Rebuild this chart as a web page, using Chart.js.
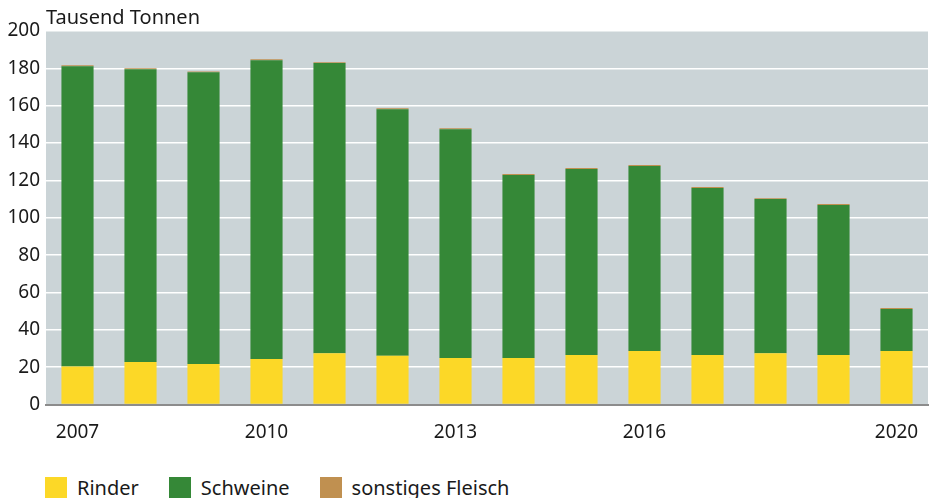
<!DOCTYPE html>
<html>
<head>
<meta charset="utf-8">
<script src="https://cdn.jsdelivr.net/npm/chart.js@4"></script>
<style>
  html, body { margin: 0; padding: 0; background: #fff; }
  #wrap { position: relative; width: 930px; height: 498px; }
  #chartBox { position: absolute; left: 0; top: 0; width: 930px; height: 462px; }
  #legend { position: absolute; left: 45px; top: 474px; display: flex; font-family: "Noto Sans", sans-serif; font-size: 20px; color: #1a1a1a; }
  .item { display: flex; align-items: center; margin-right: 30px; }
  .sw { width: 22px; height: 22px; margin-right: 10px; }
</style>
</head>
<body>
<div id="wrap">
  <div id="chartBox"><canvas id="c"></canvas></div>
  <div id="legend"></div>
</div>
<script>
const categories = ['2007','2008','2009','2010','2011','2012','2013','2014','2015','2016','2017','2018','2019','2020'];
const shownLabels = ['2007','2010','2013','2016','2020'];
const rinder   = [20.3, 22.7, 21.7, 24.3, 27.5, 26.1, 24.9, 24.9, 26.5, 28.6, 26.5, 27.5, 26.5, 28.6];
const schweine = [160.8, 156.8, 156.2, 160.1, 155.3, 132.0, 122.5, 98.0, 99.6, 99.1, 89.4, 82.5, 80.3, 22.6];
const sonstiges = [0.5, 0.5, 0.4, 0.5, 0.5, 0.5, 0.5, 0.5, 0.5, 0.5, 0.5, 0.5, 0.5, 0.5];
const yTicks = [0, 20, 40, 60, 80, 100, 120, 140, 160, 180, 200];
const unitTitle = 'Tausend Tonnen';

const FONT = '"Noto Sans", sans-serif';
const colors = { rinder: '#FCD827', schweine: '#358837', sonstiges: '#C09050' };

const bgPlugin = {
  id: 'bg',
  beforeDraw(chart) {
    const { ctx, chartArea: a } = chart;
    ctx.save();
    ctx.fillStyle = '#CBD4D7';
    ctx.fillRect(a.left, a.top, a.right - a.left, a.bottom - a.top);
    ctx.restore();
  },
  afterDraw(chart) {
    const { ctx, chartArea: a } = chart;
    ctx.save();
    ctx.font = '20px ' + FONT;
    ctx.fillStyle = '#1a1a1a';
    ctx.textBaseline = 'alphabetic';
    ctx.textAlign = 'left';
    ctx.fillText(unitTitle, a.left, 24);
    ctx.restore();
  }
};

const datasets = [
  { label: 'Rinder', data: rinder, backgroundColor: colors.rinder },
  { label: 'Schweine', data: schweine, backgroundColor: colors.schweine },
  { label: 'sonstiges Fleisch', data: sonstiges, backgroundColor: colors.sonstiges }
];

new Chart(document.getElementById('c'), {
  type: 'bar',
  data: { labels: categories, datasets: datasets.map(d => Object.assign({ barPercentage: 0.51, categoryPercentage: 1.0, borderWidth: 0 }, d)) },
  plugins: [bgPlugin],
  options: {
    responsive: true,
    maintainAspectRatio: false,
    animation: false,
    layout: { padding: { top: 31, right: 2, left: 0, bottom: 0 } },
    plugins: { legend: { display: false }, tooltip: { enabled: false }, title: { display: false } },
    scales: {
      x: {
        stacked: true,
        grid: { display: false },
        border: { display: true, color: '#8c8c8c', width: 2 },
        ticks: {
          autoSkip: false, maxRotation: 0, padding: 9,
          color: '#1a1a1a', font: { family: FONT, size: 19 },
          callback: function(v, i) { const l = categories[i]; return shownLabels.includes(l) ? l : ''; }
        },
        afterFit(s) { s.height = 57.5; }
      },
      y: {
        stacked: true,
        min: 0, max: 200,
        afterBuildTicks(s) { s.ticks = yTicks.map(v => ({ value: v })); },
        grid: { color: '#ffffff', lineWidth: 1.5, drawTicks: false },
        border: { display: false },
        ticks: { padding: 6, color: '#1a1a1a', font: { family: FONT, size: 19 } },
        afterFit(s) { s.width = 46; }
      }
    }
  }
});

const lg = document.getElementById('legend');
datasets.forEach(d => {
  const it = document.createElement('div'); it.className = 'item';
  const sw = document.createElement('div'); sw.className = 'sw'; sw.style.background = d.backgroundColor;
  const tx = document.createElement('span'); tx.textContent = d.label;
  it.appendChild(sw); it.appendChild(tx); lg.appendChild(it);
});
</script>
</body>
</html>
